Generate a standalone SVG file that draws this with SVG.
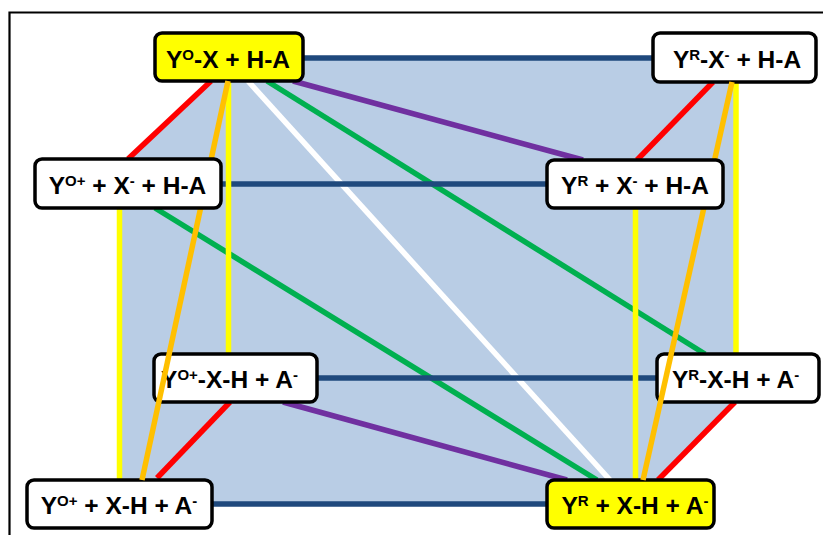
<svg xmlns="http://www.w3.org/2000/svg" width="823" height="535" viewBox="0 0 823 535">
<style>
.frame{fill:none;stroke:#000;stroke-width:2.2}
.bg{fill:#B9CDE5;stroke:none}
.c{fill:none;stroke-width:5.5;stroke-linecap:butt}
.blue{stroke:#1F497D}
.red{stroke:#FF0000}
.yel{stroke:#FFFF00}
.org{stroke:#FFC000}
.grn{stroke:#00B050}
.pur{stroke:#7030A0}
.wht{stroke:#FFFFFF}
.box{stroke:#000;stroke-width:3.5}
.w{fill:#FFFFFF}
.y{fill:#FFFF00}
.t{font-family:"Liberation Sans",Arial,sans-serif;font-weight:bold;font-size:24.5px;fill:#000;text-anchor:middle}
.s{font-size:15px}
</style>
<rect x="0" y="0" width="823" height="535" fill="#FFFFFF"/>
<polyline class="frame" points="9.5,535 9.5,12.5 823,12.5"/>
<polygon class="bg" points="236,56 737,56 737,400 634,505 120,505 120,166"/>
<g id="connectors">
<line class="c wht" x1="248" y1="81" x2="610" y2="480"/>
<line class="c grn" x1="267" y1="81" x2="705" y2="354"/>
<line class="c grn" x1="155" y1="208" x2="597" y2="480"/>
<line class="c pur" x1="293" y1="81" x2="583" y2="160"/>
<line class="c pur" x1="283" y1="402" x2="567" y2="480"/>
<line class="c blue" x1="303" y1="58" x2="653" y2="58"/>
<line class="c blue" x1="221" y1="184" x2="547" y2="184"/>
<line class="c blue" x1="317" y1="378" x2="657" y2="378"/>
<line class="c blue" x1="212" y1="504" x2="547" y2="504"/>
<line class="c yel" x1="228.5" y1="81" x2="228.5" y2="354"/>
<line class="c yel" x1="119.5" y1="208" x2="119.5" y2="480"/>
<line class="c yel" x1="736" y1="82" x2="736" y2="354"/>
<line class="c yel" x1="635.5" y1="208" x2="635.5" y2="480"/>
<line class="c red" x1="211" y1="81" x2="128" y2="159"/>
<line class="c red" x1="713" y1="82" x2="637" y2="160"/>
<line class="c red" x1="230" y1="402" x2="157" y2="478"/>
<line class="c red" x1="735" y1="402" x2="658" y2="480"/>
</g>
<g id="n1"><rect class="box y" x="155" y="33" width="148" height="48" rx="7"/><text class="t" x="228" y="68">Y<tspan class="s" dy="-8">O</tspan><tspan dy="8">-X + H-A</tspan></text></g>
<g id="n2"><rect class="box w" x="653" y="33" width="163" height="49" rx="7"/><text class="t" x="737" y="68">Y<tspan class="s" dy="-8">R</tspan><tspan dy="8">-X</tspan><tspan class="s" dy="-8">-</tspan><tspan dy="8"> + H-A</tspan></text></g>
<g id="n5"><rect class="box w" x="154" y="354" width="163" height="48" rx="7"/><text class="t" x="229.5" y="388">Y<tspan class="s" dy="-8">O+</tspan><tspan dy="8">-X-H + A</tspan><tspan class="s" dy="-8">-</tspan></text></g>
<g id="n6"><rect class="box w" x="657" y="354" width="162" height="48" rx="7"/><text class="t" x="735.5" y="388">Y<tspan class="s" dy="-8">R</tspan><tspan dy="8">-X-H + A</tspan><tspan class="s" dy="-8">-</tspan></text></g>
<g id="n7"><rect class="box w" x="27" y="480" width="185" height="48" rx="7"/><text class="t" x="119" y="514">Y<tspan class="s" dy="-8">O+</tspan><tspan dy="8"> + X-H + A</tspan><tspan class="s" dy="-8">-</tspan></text></g>
<g id="n8"><rect class="box y" x="547" y="480" width="167" height="48" rx="7"/><text class="t" x="635" y="514">Y<tspan class="s" dy="-8">R</tspan><tspan dy="8"> + X-H + A</tspan><tspan class="s" dy="-8">-</tspan></text></g>
<g id="connectors-orange">
<line class="c org" x1="228" y1="81" x2="142" y2="480"/>
<line class="c org" x1="732" y1="82" x2="643" y2="480"/>
</g>
<g id="n3"><rect class="box w" x="35" y="159" width="186" height="49" rx="7"/><text class="t" x="127.5" y="194">Y<tspan class="s" dy="-8">O+</tspan><tspan dy="8"> + X</tspan><tspan class="s" dy="-8">-</tspan><tspan dy="8"> + H-A</tspan></text></g>
<g id="n4"><rect class="box w" x="547" y="160" width="176" height="48" rx="7"/><text class="t" x="635" y="194">Y<tspan class="s" dy="-8">R</tspan><tspan dy="8"> + X</tspan><tspan class="s" dy="-8">-</tspan><tspan dy="8"> + H-A</tspan></text></g>
</svg>
